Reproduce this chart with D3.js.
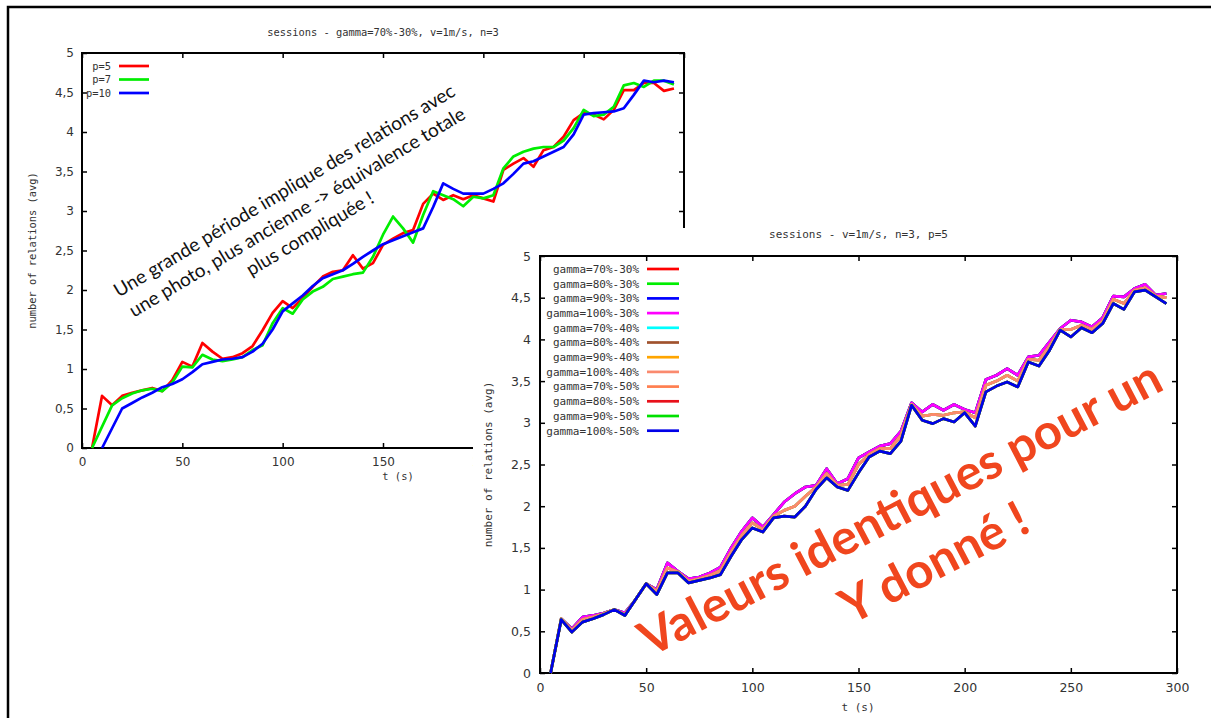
<!DOCTYPE html>
<html><head><meta charset="utf-8">
<script src="https://cdn.jsdelivr.net/npm/d3@7"></script>
<style>body{margin:0;background:#fff}svg{display:block}</style>
</head><body>
<svg id="c" width="1218" height="718"></svg>
<script>
// ---- data ----
const times = [5,10,15,20,25,30,35,40,45,50,55,60,65,70,75,80,85,90,95,100,105,110,115,120,125,130,135,140,145,150,155,160,165,170,175,180,185,190,195,200,205,210,215,220,225,230,235,240,245,250,255,260,265,270,275,280,285,290,295];
const p5  = [0,0.66,0.54,0.66,0.70,0.73,0.76,0.72,0.86,1.09,1.03,1.33,1.22,1.13,1.15,1.20,1.29,1.49,1.71,1.86,1.77,1.90,2.04,2.17,2.23,2.25,2.44,2.27,2.34,2.57,2.65,2.72,2.76,3.09,3.22,3.14,3.20,3.15,3.20,3.16,3.12,3.52,3.60,3.67,3.56,3.77,3.81,3.94,4.15,4.24,4.22,4.16,4.28,4.53,4.53,4.62,4.62,4.52,4.55];
const p7  = [0,0.27,0.54,0.63,0.69,0.73,0.75,0.72,0.83,1.03,1.02,1.18,1.12,1.10,1.12,1.15,1.24,1.30,1.58,1.77,1.70,1.88,1.98,2.04,2.14,2.17,2.20,2.22,2.42,2.70,2.93,2.78,2.60,2.95,3.25,3.20,3.15,3.06,3.18,3.16,3.20,3.54,3.69,3.75,3.79,3.81,3.81,3.89,4.05,4.28,4.20,4.22,4.32,4.59,4.62,4.57,4.65,4.65,4.60];
const p10 = [null,0,0.25,0.50,0.57,0.64,0.70,0.77,0.81,0.87,0.96,1.06,1.09,1.12,1.13,1.15,1.22,1.32,1.50,1.73,1.83,1.93,2.05,2.15,2.20,2.25,2.33,2.42,2.50,2.58,2.63,2.68,2.73,2.78,3.05,3.35,3.28,3.22,3.22,3.22,3.28,3.35,3.47,3.60,3.63,3.69,3.75,3.81,3.97,4.22,4.24,4.25,4.26,4.30,4.47,4.65,4.63,4.65,4.63];
const g30 = [0,0.65,0.53,0.67,0.69,0.72,0.76,0.72,0.88,1.07,1.00,1.32,1.22,1.13,1.15,1.20,1.27,1.50,1.70,1.86,1.75,1.90,2.05,2.15,2.23,2.25,2.45,2.27,2.33,2.58,2.65,2.72,2.75,2.90,3.24,3.13,3.22,3.15,3.22,3.16,3.12,3.52,3.57,3.65,3.57,3.79,3.81,3.97,4.13,4.23,4.21,4.15,4.26,4.52,4.51,4.61,4.66,4.53,4.55];
const g40 = [0,0.65,0.51,0.64,0.67,0.71,0.76,0.70,0.88,1.07,0.98,1.26,1.21,1.10,1.13,1.17,1.23,1.45,1.65,1.80,1.72,1.88,1.95,2.00,2.12,2.23,2.39,2.25,2.26,2.50,2.62,2.69,2.69,2.85,3.22,3.08,3.10,3.09,3.12,3.13,3.06,3.45,3.50,3.57,3.50,3.76,3.75,3.92,4.12,4.12,4.17,4.12,4.22,4.48,4.43,4.59,4.62,4.52,4.50];
const g50 = [0,0.64,0.49,0.61,0.65,0.70,0.76,0.69,0.88,1.07,0.94,1.20,1.20,1.08,1.11,1.14,1.18,1.40,1.60,1.74,1.69,1.86,1.88,1.87,2.00,2.20,2.34,2.23,2.19,2.40,2.59,2.66,2.63,2.78,3.21,3.03,2.99,3.05,3.01,3.12,2.96,3.37,3.44,3.49,3.43,3.73,3.68,3.87,4.11,4.03,4.14,4.08,4.19,4.43,4.36,4.57,4.59,4.51,4.43];
const yTicks = [0,0.5,1,1.5,2,2.5,3,3.5,4,4.5,5];
const xTicks = [0,50,100,150,200,250,300];
const names1 = ["p=5","p=7","p=10"];
const colors1 = ["#ff0000","#00ee00","#0000ff"];
const names2 = ["gamma=70%-30%","gamma=80%-30%","gamma=90%-30%","gamma=100%-30%","gamma=70%-40%","gamma=80%-40%","gamma=90%-40%","gamma=100%-40%","gamma=70%-50%","gamma=80%-50%","gamma=90%-50%","gamma=100%-50%"];
const colors2 = ["#ff0000","#00ee00","#0000ff","#ff00ff","#00ffff","#a0522d","#ffa500","#fa8a6e","#ff7f50","#e8101a","#00e000","#0000e8"];
const title1 = "sessions - gamma=70%-30%, v=1m/s, n=3";
const title2 = "sessions - v=1m/s, n=3, p=5";
const yTitle = "number of relations (avg)";
const xTitle = "t (s)";
const note1 = ["Une grande période implique des relations avec","une photo, plus ancienne -> équivalence totale","plus compliquée !"];
const note2 = ["Valeurs identiques pour un","Y donné !"];

const series1 = [p5,p7,p10];
const series2 = [g30,g30,g30,g30,g40,g40,g40,g40,g50,g50,g50,g50];

const svg = d3.select("#c");
const mono = "'DejaVu Sans Mono', 'Liberation Mono', monospace";
const sans = "'DejaVu Sans', sans-serif";

function fmt(v){ return String(v).replace(".", ","); }

function drawChart(o){
  const g = svg.append("g");
  if (o.box) g.append("rect").attr("x",o.box[0]).attr("y",o.box[1]).attr("width",o.box[2]).attr("height",o.box[3]).attr("fill","#fff");
  const x = d3.scaleLinear().domain([0,300]).range([o.left,o.right]);
  const y = d3.scaleLinear().domain([0,5]).range([o.bottom,o.top]);
  const tk = 5;
  const ax = (axis, tr) => {
    const a = g.append("g").attr("transform",tr).call(axis);
    a.select(".domain").remove();
    a.selectAll("line").attr("stroke","#000").attr("stroke-width",1.5);
    return a;
  };
  const yl = ax(d3.axisLeft(y).tickValues(yTicks).tickFormat(fmt).tickSize(-tk).tickPadding(o.pad), `translate(${o.left},0)`);
  yl.selectAll("text").attr("font-family",sans).attr("font-size",o.tfs).attr("fill","#333");
  ax(d3.axisRight(y).tickValues(yTicks).tickFormat("").tickSize(-tk), `translate(${o.right},0)`);
  const xl = ax(d3.axisBottom(x).tickValues(xTicks).tickFormat(d=>d).tickSize(-tk).tickPadding(o.xpad), `translate(0,${o.bottom})`);
  xl.selectAll("text").attr("font-family",sans).attr("font-size",o.tfs).attr("fill","#333");
  ax(d3.axisTop(x).tickValues(xTicks).tickFormat("").tickSize(-tk), `translate(0,${o.top})`);
  g.append("rect").attr("x",o.left).attr("y",o.top).attr("width",o.right-o.left).attr("height",o.bottom-o.top)
    .attr("fill","none").attr("stroke","#000").attr("stroke-width",2);
  g.append("text").attr("x",(o.left+o.right)/2).attr("y",o.titleY).attr("text-anchor","middle")
    .attr("font-family",mono).attr("font-size",o.fs).attr("fill","#333").text(o.title);
  g.append("text").attr("x",o.xlabX).attr("y",o.xlabY).attr("text-anchor","middle")
    .attr("font-family",mono).attr("font-size",o.fs).attr("fill","#333").text(xTitle);
  g.append("text").attr("transform",`translate(${o.ylabX},${(o.top+o.bottom)/2}) rotate(-90)`).attr("text-anchor","middle")
    .attr("font-family",mono).attr("font-size",o.fs).attr("fill","#333").text(yTitle);
  const line = d3.line().defined(d=>d[1]!==null).x(d=>x(d[0])).y(d=>y(d[1]));
  o.series.forEach((s,i)=>{
    g.append("path").datum(times.map((t,j)=>[t,s[j]])).attr("d",line)
      .attr("fill","none").attr("stroke",o.colors[i]).attr("stroke-width",o.lw).attr("stroke-linejoin","round");
  });
  o.names.forEach((n,i)=>{
    const yy = o.legY + i*o.legDy;
    g.append("text").attr("x",o.legX).attr("y",yy).attr("dy","0.35em").attr("text-anchor","end")
      .attr("font-family",mono).attr("font-size",o.fs).attr("fill","#333").text(n);
    g.append("line").attr("x1",o.legX+8).attr("x2",o.legX+8+o.legLen).attr("y1",yy).attr("y2",yy)
      .attr("stroke",o.colors[i]).attr("stroke-width",o.lw);
  });
}

drawChart({left:82,right:684,top:53,bottom:448,pad:8,xpad:9,tfs:12,fs:10.4,lw:2.7,
  title:title1,titleY:36,xlabX:398,xlabY:480,ylabX:36,
  series:series1,colors:colors1,names:names1,legX:111,legY:66,legDy:13.5,legLen:30});

drawChart({box:[473,228,745,490],left:540,right:1177,top:256,bottom:673,pad:9,xpad:10,tfs:12.5,fs:11,lw:2.7,
  title:title2,titleY:238,xlabX:858,xlabY:711,ylabX:492,
  series:series2,colors:colors2,names:names2,legX:639,legY:269,legDy:14.7,legLen:32});

// outer border
svg.append("path").attr("d","M8,718 V7 H1211").attr("fill","none").attr("stroke","#000").attr("stroke-width",2.5);

// annotations
const a1 = svg.append("g").attr("transform","translate(297,212) rotate(-31)");
note1.forEach((t,i)=>{
  a1.append("text").attr("x",0).attr("y",(i-1)*25).attr("dy","0.35em").attr("text-anchor","middle")
    .attr("font-family","Lato, 'Open Sans', sans-serif").attr("font-size",19).attr("fill","#111").text(t);
});
const a2 = svg.append("g").attr("transform","translate(900,508) rotate(-27.5)");
note2.forEach((t,i)=>{
  a2.append("text").attr("x",i===0?0:5).attr("y",i*64).attr("dy","0.35em").attr("text-anchor","middle")
    .attr("font-family","Lato, 'Open Sans', sans-serif").attr("font-weight","bold").attr("font-size",49).attr("fill","#f0461e").text(t);
});
</script>
</body></html>
